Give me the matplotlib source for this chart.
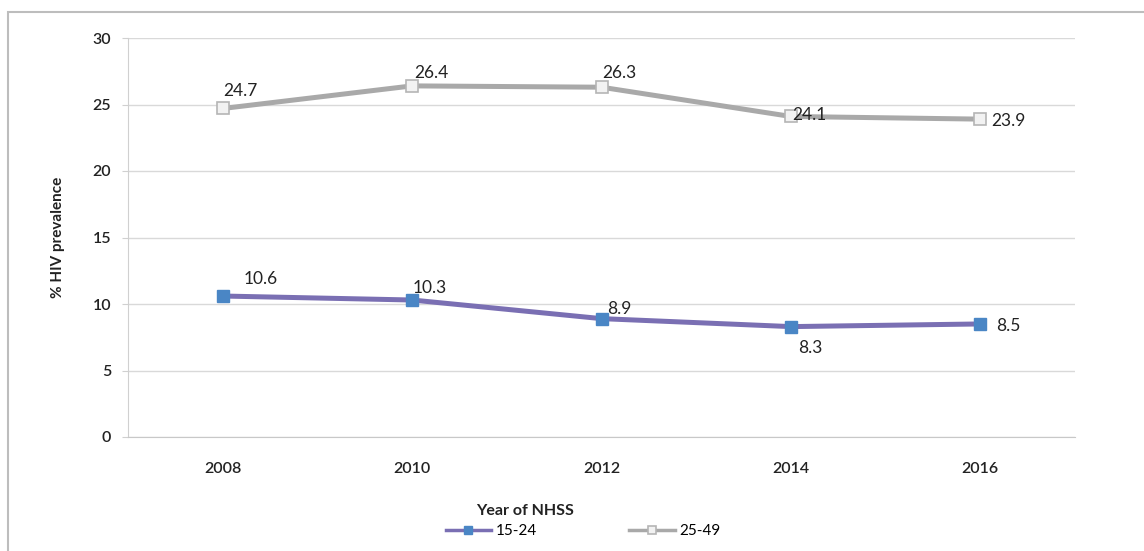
import matplotlib.pyplot as plt
from matplotlib.patches import Rectangle

years = ['2008', '2010', '2012', '2014', '2016']
young = [10.6, 10.3, 8.9, 8.3, 8.5]      # 15-24
older = [24.7, 26.4, 26.3, 24.1, 23.9]   # 25-49

# label offsets in pixels (dx, dy) relative to each point
young_off = [(38, 17), (18, 12), (18, 10), (19, -21), (28, -2)]
older_off = [(18, 17), (19, 13), (18, 14), (18, 1), (28, -2)]

plt.rcParams['font.family'] = ['Lato', 'DejaVu Sans']

fig = plt.figure(figsize=(11.44, 5.51), dpi=100)
W, H = 1144, 551
ax = fig.add_axes([128 / W, 1 - 437 / H, (1075 - 128) / W, (437 - 38) / H])

# outer chart frame
fig.patches.append(Rectangle((8 / W, -0.05), 1.2, 1 - 12 / H + 0.05, transform=fig.transFigure,
                             fill=False, edgecolor='#bdbdbd', linewidth=1.5))

x = list(range(len(years)))
l1, = ax.plot(x, young, color='#7a6fb3', linewidth=3.6, marker='s', markersize=8,
              markerfacecolor='#4a86c5', markeredgecolor='#4a86c5', label='15-24', zorder=3)
l2, = ax.plot(x, older, color='#a9a9a9', linewidth=3.6, marker='s', markersize=8,
              markerfacecolor='#f2f2f2', markeredgecolor='#b5b5b5', markeredgewidth=1.2,
              label='25-49', zorder=3)

for i, v in enumerate(young):
    ax.annotate(f'{v}', (i, v), xytext=young_off[i], textcoords='offset pixels',
                ha='center', va='center', fontsize=12.5, color='#222222')
for i, v in enumerate(older):
    ax.annotate(f'{v}', (i, v), xytext=older_off[i], textcoords='offset pixels',
                ha='center', va='center', fontsize=12.5, color='#222222')

ax.set_xlim(-0.5, 4.5)
ax.set_ylim(0, 30)
ax.set_yticks(range(0, 31, 5))
ax.set_xticks(x)
ax.set_xticklabels(years)
ax.grid(axis='y', color='#d9d9d9', linewidth=1)
ax.set_axisbelow(True)
for s in ['top', 'right']:
    ax.spines[s].set_visible(False)
ax.spines['left'].set_color('#d0d0d0')
ax.spines['bottom'].set_color('#c8c8c8')
ax.tick_params(axis='y', length=4, color='#d0d0d0', labelsize=11.5, labelcolor='#222222', pad=8)
ax.tick_params(axis='x', length=0, labelsize=11.5, labelcolor='#222222', pad=18)
for lab in ax.get_xticklabels() + ax.get_yticklabels():
    lab.set_fontweight('semibold')

ax.set_ylabel('% HIV prevalence', fontsize=11, fontweight='bold', color='#222222', labelpad=20)
fig.text(525 / W, 1 - 511 / H, 'Year of NHSS', ha='center', va='center',
         fontsize=11.5, fontweight='bold', color='#222222')

fig.legend(handles=[l1, l2], loc='center', bbox_to_anchor=(583 / W, 1 - 531 / H), ncol=2,
           frameon=False, fontsize=11, handlelength=3.0, columnspacing=6,
           handletextpad=0.3, markerscale=0.8)
for line in fig.legends[0].get_lines():
    line.set_linewidth(2.5)

fig.savefig('out.png', dpi=100)
